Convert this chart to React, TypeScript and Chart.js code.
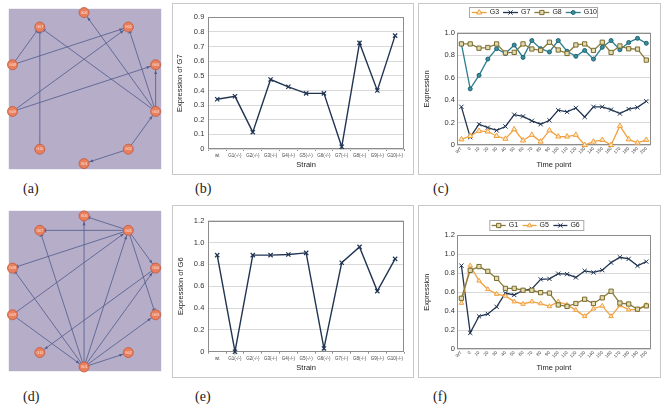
import React, { useEffect, useRef } from "react";
import { Chart, registerables } from "chart.js";
import { drawPoint } from "chart.js/helpers";

Chart.register(...registerables);

const FONT = '"Liberation Sans", Arial, sans-serif';

// ---------- data ----------
const strainLabels = ["wt", "G1(-/-)", "G2(-/-)", "G3(-/-)", "G4(-/-)", "G5(-/-)", "G6(-/-)", "G7(-/-)", "G8(-/-)", "G9(-/-)", "G10(-/-)"];
const g7ByStrain = [0.34, 0.36, 0.115, 0.475, 0.425, 0.38, 0.38, 0.015, 0.725, 0.4, 0.775];
const g6ByStrain = [0.885, 0.0, 0.885, 0.885, 0.89, 0.905, 0.03, 0.815, 0.96, 0.555, 0.85];

const timeLabels = ["WT", "0", "10", "20", "30", "40", "50", "60", "70", "80", "90", "100", "110", "120", "130", "140", "150", "160", "170", "180", "190", "200"];
const g3Series = [0.05, 0.08, 0.125, 0.12, 0.08, 0.055, 0.14, 0.04, 0.09, 0.03, 0.13, 0.075, 0.075, 0.09, 0.0, 0.03, 0.045, 0.0, 0.17, 0.05, 0.02, 0.045];
const g7Series = [0.34, 0.07, 0.185, 0.155, 0.13, 0.165, 0.27, 0.255, 0.215, 0.185, 0.22, 0.31, 0.295, 0.33, 0.25, 0.34, 0.34, 0.315, 0.28, 0.32, 0.335, 0.39];
const g8Series = [0.9, 0.9, 0.862, 0.868, 0.9, 0.82, 0.825, 0.9, 0.855, 0.843, 0.915, 0.846, 0.815, 0.891, 0.9, 0.842, 0.915, 0.824, 0.882, 0.857, 0.854, 0.756];
const g10Series = [0.9, 0.5, 0.62, 0.765, 0.858, 0.815, 0.89, 0.78, 0.93, 0.858, 0.828, 0.93, 0.835, 0.79, 0.842, 0.765, 0.87, 0.93, 0.848, 0.913, 0.95, 0.906];
const g1Series = [0.535, 0.83, 0.87, 0.82, 0.745, 0.64, 0.64, 0.62, 0.62, 0.595, 0.59, 0.465, 0.45, 0.48, 0.525, 0.48, 0.54, 0.61, 0.485, 0.475, 0.42, 0.455];
const g5Series = [0.485, 0.88, 0.72, 0.63, 0.58, 0.56, 0.5, 0.475, 0.5, 0.48, 0.45, 0.5, 0.465, 0.41, 0.345, 0.425, 0.455, 0.345, 0.46, 0.415, 0.415, 0.465];
const g6Series = [0.88, 0.17, 0.345, 0.37, 0.445, 0.59, 0.57, 0.62, 0.635, 0.735, 0.74, 0.795, 0.79, 0.755, 0.825, 0.808, 0.832, 0.912, 0.968, 0.951, 0.878, 0.922];

// network: nodes in clockwise order starting at the top of the circle
const geneNodes = ["G06", "G05", "G04", "G03", "G02", "G01", "G10", "G09", "G08", "G07"];
type Edge = [string, string, "a" | "t"];
const edgesA: Edge[] = [
  ["G08", "G07", "t"], ["G10", "G07", "t"], ["G03", "G07", "t"],
  ["G08", "G05", "a"], ["G09", "G05", "a"], ["G09", "G04", "a"],
  ["G03", "G06", "a"], ["G03", "G05", "t"], ["G03", "G04", "a"],
  ["G02", "G03", "a"], ["G02", "G01", "a"],
];
const edgesD: Edge[] = [
  ["G05", "G06", "t"], ["G05", "G07", "t"], ["G05", "G08", "t"],
  ["G09", "G05", "a"], ["G05", "G04", "a"], ["G05", "G03", "t"],
  ["G04", "G10", "a"], ["G01", "G06", "a"], ["G01", "G07", "t"],
  ["G01", "G08", "t"], ["G09", "G01", "a"], ["G01", "G05", "a"],
  ["G01", "G04", "a"], ["G01", "G03", "a"], ["G01", "G02", "a"],
];

// ---------- styles ----------
const NAVY = "#213552";
const ORANGE = "#f2a03e";
const OLIVE = "#8a7b3c";
const TEAL = "#2c7d8f";
const EDGE = "#4f5b8c";
const NET_BG = "#b6adc8";

function nodePos(name: string) {
  const i = geneNodes.indexOf(name);
  const ang = ((90 - 36 * i) * Math.PI) / 180;
  return { x: Math.cos(ang), y: Math.sin(ang) };
}

const networkPlugin = {
  id: "networkDecor",
  beforeDraw(chart: any) {
    const { ctx, chartArea: a } = chart;
    ctx.save();
    ctx.fillStyle = NET_BG;
    ctx.fillRect(a.left, a.top, a.right - a.left, a.bottom - a.top);
    ctx.restore();
  },
  afterDatasetsDraw(chart: any) {
    const ctx = chart.ctx;
    ctx.save();
    chart.data.datasets.forEach((ds: any, di: number) => {
      if (!ds.edgeHead) return;
      const pts = chart.getDatasetMeta(di).data;
      const p0 = pts[0], p1 = pts[1];
      const dx = p1.x - p0.x, dy = p1.y - p0.y;
      const len = Math.hypot(dx, dy) || 1;
      const ux = dx / len, uy = dy / len;
      const tx = p1.x - ux * 5.8, ty = p1.y - uy * 5.8;
      ctx.strokeStyle = EDGE;
      ctx.fillStyle = EDGE;
      ctx.lineWidth = 0.9;
      if (ds.edgeHead === "a") {
        ctx.beginPath();
        ctx.moveTo(tx, ty);
        ctx.lineTo(tx - ux * 3.4 - uy * 1.5, ty - uy * 3.4 + ux * 1.5);
        ctx.lineTo(tx - ux * 3.4 + uy * 1.5, ty - uy * 3.4 - ux * 1.5);
        ctx.closePath();
        ctx.fill();
      } else {
        ctx.beginPath();
        ctx.moveTo(tx - uy * 2, ty + ux * 2);
        ctx.lineTo(tx + uy * 2, ty - ux * 2);
        ctx.stroke();
      }
    });
    const meta = chart.getDatasetMeta(0);
    ctx.font = `3.6px ${FONT}`;
    ctx.fillStyle = "#fbe6dc";
    ctx.textAlign = "center";
    ctx.textBaseline = "middle";
    meta.data.forEach((el: any, i: number) => {
      ctx.fillText(chart.data.datasets[0].names[i], el.x, el.y + 0.3);
    });
    ctx.restore();
  },
};

const plotFrame = {
  id: "plotFrame",
  beforeDatasetsDraw(chart: any) {
    const { ctx, chartArea: a } = chart;
    ctx.save();
    ctx.strokeStyle = "#8c8c8c";
    ctx.lineWidth = 1;
    const l = Math.round(a.left) + 0.5, t = Math.round(a.top) + 0.5;
    const r = Math.round(a.right) - 0.5, b = Math.round(a.bottom) - 0.5;
    ctx.strokeRect(l, t, r - l, b - t);
    ctx.restore();
  },
};

const excelLegend = {
  id: "excelLegend",
  afterDraw(chart: any, _args: any, opts: any) {
    if (!opts || !opts.box) return;
    const ctx = chart.ctx;
    const [bx, by, bw, bh] = opts.box;
    ctx.save();
    ctx.fillStyle = "#ffffff";
    ctx.fillRect(bx, by, bw, bh);
    ctx.strokeStyle = "#a8a8a8";
    ctx.lineWidth = 1;
    ctx.strokeRect(bx + 0.5, by + 0.5, bw, bh);
    ctx.font = `7px ${FONT}`;
    ctx.textBaseline = "middle";
    ctx.textAlign = "left";
    let x = bx + opts.startPad;
    const cy = by + bh / 2 + 0.5;
    chart.data.datasets.forEach((ds: any) => {
      ctx.strokeStyle = ds.borderColor;
      ctx.lineWidth = ds.borderWidth;
      ctx.beginPath();
      ctx.moveTo(x, cy);
      ctx.lineTo(x + opts.lineLen, cy);
      ctx.stroke();
      ctx.fillStyle = ds.pointBackgroundColor;
      ctx.strokeStyle = ds.pointBorderColor;
      ctx.lineWidth = ds.pointBorderWidth;
      drawPoint(ctx, { pointStyle: ds.pointStyle, radius: ds.pointRadius, rotation: 0, borderWidth: ds.pointBorderWidth } as any, x + opts.lineLen / 2, cy);
      x += opts.lineLen + opts.gap;
      ctx.fillStyle = "#222";
      ctx.fillText(ds.label, x, cy);
      x += ctx.measureText(ds.label).width + opts.itemGap;
    });
    ctx.restore();
  },
};

// ---------- components ----------
function NetworkPanel(props: { left: number; top: number; width: number; height: number; edges: Edge[]; xr: [number, number]; yr: [number, number] }) {
  const ref = useRef<HTMLCanvasElement>(null);
  useEffect(() => {
    const nodeData = geneNodes.map((n) => nodePos(n));
    const datasets: any[] = [
      {
        type: "scatter",
        data: nodeData,
        names: geneNodes,
        pointRadius: 5,
        pointBackgroundColor: "#e8805f",
        pointBorderColor: "#c4583a",
        pointBorderWidth: 0.8,
        clip: false,
      },
      ...props.edges.map(([s, t, h]) => ({
        type: "scatter",
        showLine: true,
        data: [nodePos(s), nodePos(t)],
        edgeHead: h,
        borderColor: EDGE,
        borderWidth: 0.8,
        pointRadius: 0,
        pointHitRadius: 0,
        clip: false,
      })),
    ];
    const chart = new Chart(ref.current!, {
      type: "scatter",
      data: { datasets },
      options: {
        animation: false,
        responsive: false,
        events: [],
        layout: { padding: 0 },
        plugins: { legend: { display: false }, tooltip: { enabled: false } },
        scales: {
          x: { type: "linear", display: false, min: props.xr[0], max: props.xr[1] },
          y: { type: "linear", display: false, min: props.yr[0], max: props.yr[1] },
        },
      } as any,
      plugins: [networkPlugin],
    });
    return () => chart.destroy();
  }, []);
  return (
    <canvas
      ref={ref}
      width={props.width}
      height={props.height}
      style={{ position: "absolute", left: props.left, top: props.top, width: props.width, height: props.height }}
    />
  );
}

type PanelProps = {
  left: number; top: number; width: number; height: number;
  plot: { l: number; r: number; t: number; b: number };
  labels: string[]; datasets: any[];
  yMax: number; yStep: number; yTitle: string; xTitle: string;
  rotate: boolean; yTickPad: number; yTitlePad: number; xTitlePad: number;
  legend?: any;
};

function ExcelPanel(p: PanelProps) {
  const ref = useRef<HTMLCanvasElement>(null);
  useEffect(() => {
    const chart = new Chart(ref.current!, {
      type: "line",
      data: { labels: p.labels, datasets: p.datasets },
      options: {
        animation: false,
        responsive: false,
        events: [],
        layout: { padding: { left: 0, top: p.plot.t, right: p.width - p.plot.r, bottom: 0 } },
        plugins: { legend: { display: false }, tooltip: { enabled: false }, excelLegend: p.legend || {} },
        scales: {
          x: {
            type: "category",
            offset: true,
            grid: { display: true, drawOnChartArea: false, drawTicks: !p.rotate, tickLength: 2, color: "#8c8c8c", offset: true },
            border: { display: false },
            ticks: {
              font: { size: 4.5, family: FONT },
              color: "#444",
              padding: p.rotate ? 1 : 2,
              autoSkip: false,
              maxRotation: p.rotate ? 45 : 0,
              minRotation: p.rotate ? 45 : 0,
            },
            title: { display: true, text: p.xTitle, font: { size: 7.5, family: FONT }, color: "#222", padding: { top: 0, bottom: p.xTitlePad } },
            afterFit: (s: any) => { s.height = p.height - p.plot.b; },
          },
          y: {
            min: 0,
            max: p.yMax,
            ticks: { stepSize: p.yStep, font: { size: 7.5, family: FONT }, color: "#333", padding: p.yTickPad },
            grid: { color: "#d9d9d9", drawTicks: false, lineWidth: 1 },
            border: { display: false },
            title: { display: true, text: p.yTitle, font: { size: 7.5, family: FONT }, color: "#222", padding: { top: p.yTitlePad, bottom: 0 } },
            afterFit: (s: any) => { s.width = p.plot.l; },
          },
        },
      } as any,
      plugins: [plotFrame, excelLegend],
    });
    return () => chart.destroy();
  }, []);
  return (
    <canvas
      ref={ref}
      width={p.width}
      height={p.height}
      style={{ position: "absolute", left: p.left, top: p.top, width: p.width, height: p.height }}
    />
  );
}

function Box(props: { left: number; top: number; width: number; height: number }) {
  return (
    <div
      style={{
        position: "absolute", left: props.left, top: props.top, width: props.width, height: props.height,
        boxSizing: "border-box", border: "1px solid #c9c9c9",
      }}
    />
  );
}

function SubLabel(props: { text: string; left: number; top: number }) {
  return (
    <div style={{ position: "absolute", left: props.left, top: props.top, font: '14px "Liberation Serif", serif', lineHeight: "14px", color: "#222", whiteSpace: "nowrap" }}>
      {props.text}
    </div>
  );
}

function seriesStrain(label: string, data: number[]) {
  return {
    label, data, borderColor: NAVY, borderWidth: 1.4, pointStyle: "crossRot", pointRadius: 3,
    pointBorderColor: NAVY, pointBackgroundColor: NAVY, pointBorderWidth: 1.2, tension: 0, clip: false,
  };
}

const mk = (label: string, data: number[], color: string, style: string, radius: number, fill: string, border: string) => ({
  label, data, borderColor: color, borderWidth: 1.3, pointStyle: style, pointRadius: radius,
  pointBackgroundColor: fill, pointBorderColor: border, pointBorderWidth: 1, tension: 0, clip: false,
});

export default function App() {
  const legendOpts = { startPad: 2.7, lineLen: 15, gap: 3, itemGap: 4 };
  return (
    <div style={{ position: "absolute", left: 0, top: 0, width: 662, height: 404, background: "#fff", overflow: "hidden" }}>
      <NetworkPanel left={3} top={3} width={164} height={172} edges={edgesA} xr={[-1.0, 1.025]} yr={[-1.074, 1.05]} />
      <NetworkPanel left={3} top={205} width={164} height={172} edges={edgesD} xr={[-1.0, 1.025]} yr={[-1.056, 1.068]} />

      <Box left={172} top={3} width={242} height={172} />
      <Box left={418} top={3} width={243} height={172} />
      <Box left={172} top={205} width={242} height={173} />
      <Box left={418} top={205} width={243} height={173} />

      <ExcelPanel
        left={172} top={3} width={242} height={172}
        plot={{ l: 36.3, r: 232, t: 14.3, b: 146 }}
        labels={strainLabels}
        datasets={[seriesStrain("G7", g7ByStrain)]}
        yMax={0.9} yStep={0.1} yTitle="Expression of G7" xTitle="Strain"
        rotate={false} yTickPad={4} yTitlePad={3.8} xTitlePad={5.5}
      />
      <ExcelPanel
        left={172} top={205} width={242} height={173}
        plot={{ l: 36.3, r: 232, t: 15.7, b: 146.7 }}
        labels={strainLabels}
        datasets={[seriesStrain("G6", g6ByStrain)]}
        yMax={1.2} yStep={0.2} yTitle="Expression of G6" xTitle="Strain"
        rotate={false} yTickPad={4} yTitlePad={4.5} xTitlePad={5.5}
      />
      <ExcelPanel
        left={418} top={3} width={243} height={172}
        plot={{ l: 39, r: 232.7, t: 29.7, b: 142 }}
        labels={timeLabels}
        datasets={[
          mk("G3", g3Series, ORANGE, "triangle", 3, "#fde7c6", ORANGE),
          mk("G7", g7Series, NAVY, "crossRot", 3, NAVY, NAVY),
          mk("G8", g8Series, OLIVE, "rect", 3, "#e3dbb2", "#786a2c"),
          mk("G10", g10Series, TEAL, "circle", 2, "#3a8fa1", "#1f6272"),
        ]}
        yMax={1} yStep={0.1} yTitle="Expression" xTitle="Time point"
        rotate={true} yTickPad={2} yTitlePad={4.5} xTitlePad={5.5}
        legend={{ box: [51, 4, 128, 10], ...legendOpts }}
      />
      <ExcelPanel
        left={418} top={205} width={243} height={173}
        plot={{ l: 39, r: 232.7, t: 30.3, b: 144 }}
        labels={timeLabels}
        datasets={[
          mk("G1", g1Series, OLIVE, "rect", 3, "#e3dbb2", "#786a2c"),
          mk("G5", g5Series, ORANGE, "triangle", 2.6, "#fde7c6", ORANGE),
          mk("G6", g6Series, NAVY, "crossRot", 3, NAVY, NAVY),
        ]}
        yMax={1.2} yStep={0.2} yTitle="Expression" xTitle="Time point"
        rotate={true} yTickPad={2} yTitlePad={4.5} xTitlePad={5.5}
        legend={{ box: [71.3, 15, 94, 10], startPad: 2.4, lineLen: 14, gap: 3, itemGap: 4.5 }}
      />

      <SubLabel text="(a)" left={23} top={182} />
      <SubLabel text="(b)" left={195} top={182} />
      <SubLabel text="(c)" left={433} top={182} />
      <SubLabel text="(d)" left={23} top={390} />
      <SubLabel text="(e)" left={195} top={390} />
      <SubLabel text="(f)" left={433} top={390} />
    </div>
  );
}
